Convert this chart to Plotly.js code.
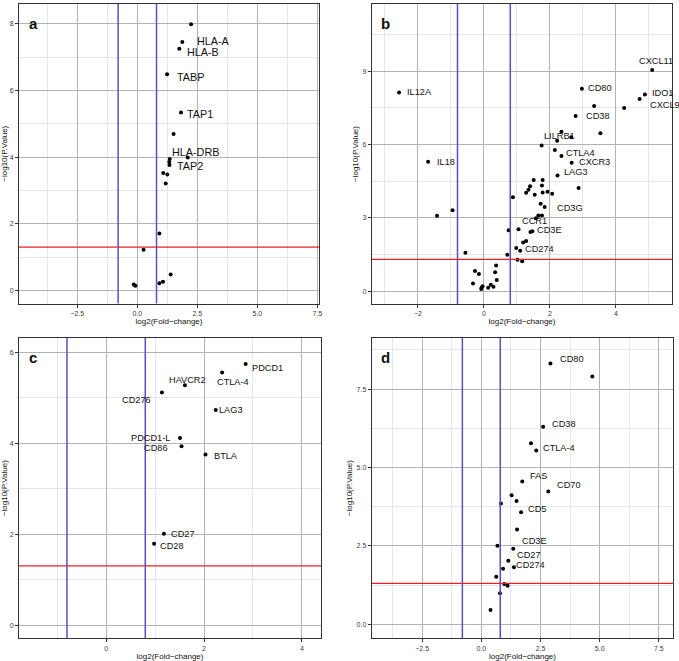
<!DOCTYPE html>
<html>
<head>
<meta charset="utf-8">
<script src="https://cdn.plot.ly/plotly-3.0.1.min.js"></script>
<style>html,body{margin:0;padding:0;background:#fff;}#chart{width:679px;height:661px;}</style>
</head>
<body>
<div id="chart"></div>
<script>
// ---------------- DATA ----------------
// Panel a
const aX = [2.24, 1.875, 1.75, 1.24, 1.82, 1.51, 2.10, 1.35, 1.33, 1.34, 1.08, 1.25, 1.18, 0.92, 0.26, 1.39, 1.07, 0.92, -0.15, -0.08];
const aY = [7.99, 7.46, 7.26, 6.49, 5.34, 4.70, 3.99, 3.95, 3.86, 3.77, 3.53, 3.48, 3.21, 1.71, 1.22, 0.48, 0.26, 0.22, 0.18, 0.14];
const aLabels = ['', 'HLA-A', 'HLA-B', 'TABP', 'TAP1', '', '', 'HLA-DRB', '', 'TAP2', '', '', '', '', '', '', '', '', '', ''];

// Panel b
const bX = [-2.57, -1.69, -1.42, -0.95, -0.56, 5.10, 2.97, 4.88, 4.72, 4.25, 3.34, 2.78, 3.53, 2.35, 2.65, 2.22, 1.75, 2.15, 2.35, 2.66,
            2.23, 2.87, 1.51, 1.78, 1.76, 1.40, 1.35, 1.28, 1.54, 1.78, 1.93, 2.07, 0.88, 1.72, 1.84, 1.65, 1.76, 1.58, 1.05, 0.75,
            1.41, 1.47, 1.28, 1.19, 0.98, 1.10, 0.71, 1.02, 1.16, 0.37, 0.34, 0.39, 0.21, 0.29, -0.07, 0.13, -0.27, -0.15, -0.33, -0.08, -0.04];
const bY = [8.13, 5.30, 3.09, 3.31, 1.57, 9.06, 8.29, 8.05, 7.87, 7.50, 7.58, 7.17, 6.46, 6.53, 6.30, 6.16, 5.96, 5.78, 5.53, 5.26,
            4.73, 4.22, 4.55, 4.55, 4.32, 4.29, 4.15, 4.03, 3.95, 4.04, 4.07, 3.99, 3.84, 3.58, 3.44, 3.10, 3.10, 2.98, 2.53, 2.49,
            2.42, 2.45, 2.05, 1.99, 1.76, 1.65, 1.49, 1.28, 1.22, 1.05, 0.77, 0.45, 0.26, 0.18, 0.14, 0.14, 0.82, 0.70, 0.31, 0.08, 0.20];
const bLabels = ['IL12A', 'IL18', '', '', '', 'CXCL11', 'CD80', 'IDO1', 'CXCL9', '', '', 'CD38', '', '', '', 'LILRB1', '', '', 'CTLA4', 'CXCR3',
                 'LAG3', '', '', '', '', '', '', '', '', '', '', '', '', '', 'CD3G', '', '', '', 'CCR1', '',
                 '', 'CD3E', '', '', '', 'CD274', '', '', '', '', '', '', '', '', '', '', '', '', '', '', ''];

// Panel c
const cX = [2.85, 2.37, 1.61, 1.14, 2.24, 1.51, 1.54, 2.03, 1.18, 0.98];
const cY = [5.74, 5.55, 5.27, 5.11, 4.73, 4.11, 3.93, 3.75, 2.01, 1.79];
const cLabels = ['PDCD1', 'CTLA-4', 'HAVCR2', 'CD276', 'LAG3', 'PDCD1-L', 'CD86', 'BTLA', 'CD27', 'CD28'];

// Panel d
const dX = [2.92, 4.69, 2.61, 2.10, 2.32, 1.73, 2.83, 1.28, 1.49, 0.83, 1.68, 1.51, 0.68, 1.35, 1.14, 0.92, 1.38, 0.63, 0.97, 1.11, 0.79, 0.39];
const dY = [8.32, 7.90, 6.30, 5.77, 5.54, 4.55, 4.23, 4.11, 3.93, 3.85, 3.57, 3.02, 2.50, 2.41, 2.02, 1.77, 1.82, 1.51, 1.28, 1.23, 0.99, 0.45];
const dLabels = ['CD80', '', 'CD38', '', 'CTLA-4', 'FAS', 'CD70', '', '', '', 'CD5', '', '', 'CD3E', 'CD27', '', 'CD274', '', '', '', '', ''];

// Thresholds
const FC_CUT = 0.8;      // |log2 fold-change|
const P_CUT = 1.3;       // -log10(0.05)

// ---------------- STYLE / LAYOUT ----------------
// label offsets in pixels: [xanchor, xshift, yshift]
const labelOffsets = {
  a: {'HLA-A': ['left', 13, 1], 'HLA-B': ['left', 6, -3], 'TABP': ['left', 8, -3], 'TAP1': ['left', 4, -1],
      'HLA-DRB': ['left', 0, 7], 'TAP2': ['left', 6, -1]},
  b: {'CXCL11': ['left', -15, 9], 'CD80': ['left', 4, 1], 'IDO1': ['left', 5, 2], 'CXCL9': ['left', 8, -6],
      'CD38': ['left', 8, 0], 'LILRB1': ['left', -15, 5], 'CTLA4': ['left', 3, 3], 'CXCR3': ['left', 5, 1],
      'LAG3': ['left', 5, 4], 'IL12A': ['left', 6, 1], 'IL18': ['left', 7, 0], 'CD3G': ['left', 10, -1],
      'CCR1': ['left', 1, 8], 'CD3E': ['left', 3, 1], 'CD274': ['left', 3, 2]},
  c: {'PDCD1': ['left', 4, -4], 'CTLA-4': ['left', -7, -9], 'HAVCR2': ['left', -18, 5], 'CD276': ['right', -9, -7],
      'LAG3': ['left', 1, 0], 'PDCD1-L': ['right', -8, 0], 'CD86': ['right', -12, -2], 'BTLA': ['left', 7, -2],
      'CD27': ['left', 5, 0], 'CD28': ['left', 4, -2]},
  d: {'CD80': ['left', 8, 4], 'CD38': ['left', 7, 3], 'CTLA-4': ['left', 5, 3], 'FAS': ['left', 6, 6],
      'CD70': ['left', 7, 7], 'CD5': ['left', 5, 3], 'CD3E': ['left', 7, 8], 'CD27': ['left', 7, 6], 'CD274': ['left', 0, 2]}
};

const W = 679, H = 661;
function dom(p0, p1, size, flip) {
  return flip ? [(size - p1) / size, (size - p0) / size] : [p0 / size, p1 / size];
}

const panels = [
  {key: 'a', x: aX, y: aY, lab: aLabels, ax: '', xr: [-4.93, 7.57], yr: [-0.39, 8.6], xd: 2.5, yd: 2, xfmt: '.1f', yfmt: 'd',
   px: [19, 319], py: [4, 303.5], fs: 10.8},
  {key: 'b', x: bX, y: bY, lab: bLabels, ax: '2', xr: [-3.40, 5.71], yr: [-0.53, 11.76], xd: 2, yd: 3, xfmt: 'd', yfmt: 'd',
   px: [371.7, 672.3], py: [4, 304], fs: 9.2},
  {key: 'c', x: cX, y: cY, lab: cLabels, ax: '3', xr: [-1.78, 4.39], yr: [-0.29, 6.31], xd: 2, yd: 2, xfmt: 'd', yfmt: 'd',
   px: [19, 321], py: [338, 638.3], fs: 9.2},
  {key: 'd', x: dX, y: dY, lab: dLabels, ax: '4', xr: [-4.63, 8.11], yr: [-0.45, 9.13], xd: 2.5, yd: 2.5, xfmt: '.1f', yfmt: '.1f',
   px: [371.7, 673.3], py: [338, 638.3], fs: 9.2}
];

const traces = [];
const annotations = [];
const shapes = [];
const layout = {
  width: W, height: H,
  margin: {l: 0, r: 0, t: 0, b: 0},
  paper_bgcolor: '#ffffff', plot_bgcolor: '#ffffff',
  showlegend: false,
  font: {family: 'Liberation Sans, Arial, sans-serif', color: '#222'}
};

const tickFont = {family: 'Liberation Sans, Arial, sans-serif', size: 7, color: '#3a3a3a'};
const titleFont = {family: 'Liberation Sans, Arial, sans-serif', size: 8, color: '#111'};
const labelFont = 'Liberation Sans, Arial, sans-serif';

panels.forEach(p => {
  const xa = 'x' + p.ax, ya = 'y' + p.ax;
  traces.push({
    type: 'scatter', mode: 'markers', x: p.x, y: p.y, xaxis: xa, yaxis: ya,
    marker: {color: '#000', size: 4}, hoverinfo: 'skip', cliponaxis: true
  });
  const common = {
    showline: true, mirror: true, linecolor: '#333', linewidth: 1,
    ticks: 'outside', ticklen: 3, tickcolor: '#333', tickwidth: 1,
    showgrid: true, gridcolor: '#b3b3b3', gridwidth: 1,
    zeroline: false, tickfont: tickFont, fixedrange: true
  };
  layout['xaxis' + p.ax] = Object.assign({}, common, {
    domain: dom(p.px[0], p.px[1], W, false), anchor: ya, range: p.xr,
    tick0: 0, dtick: p.xd, tickformat: p.xfmt,
    minor: {dtick: p.xd / 2, tick0: 0, showgrid: true, gridcolor: '#e6e6e6', gridwidth: 1, ticks: ''},
    title: {text: 'log2(Fold\u2212change)', font: titleFont, standoff: 0}
  });
  layout['yaxis' + p.ax] = Object.assign({}, common, {
    domain: dom(p.py[0], p.py[1], H, true), anchor: xa, range: p.yr,
    tick0: 0, dtick: p.yd, tickformat: p.yfmt,
    minor: {dtick: p.yd / 2, tick0: 0, showgrid: true, gridcolor: '#e6e6e6', gridwidth: 1, ticks: ''},
    title: {text: '\u2212log10(P.Value)', font: titleFont, standoff: 2}
  });
  // threshold lines
  [-FC_CUT, FC_CUT].forEach(v => shapes.push({
    type: 'line', xref: xa, yref: ya + ' domain', x0: v, x1: v, y0: 0, y1: 1,
    line: {color: '#5b4fc4', width: 1.5}, layer: 'above'
  }));
  shapes.push({
    type: 'line', xref: xa + ' domain', yref: ya, x0: 0, x1: 1, y0: P_CUT, y1: P_CUT,
    line: {color: '#e8202a', width: 1.3}, layer: 'above'
  });
  // panel letter
  annotations.push({
    xref: xa + ' domain', yref: ya + ' domain', x: 0.025, y: 0.935, xanchor: 'left', yanchor: 'middle',
    text: '<b>' + p.key + '</b>', showarrow: false,
    font: {family: 'Liberation Sans, Arial, sans-serif', size: 15, color: '#111'}
  });
  // gene labels
  const offs = labelOffsets[p.key];
  p.lab.forEach((t, i) => {
    if (!t) return;
    const o = offs[t] || ['left', 5, 0];
    annotations.push({
      xref: xa, yref: ya, x: p.x[i], y: p.y[i], text: t, showarrow: false,
      xanchor: o[0], yanchor: 'middle', xshift: o[1], yshift: o[2],
      font: {family: labelFont, size: p.fs, color: '#111'}
    });
  });
});

layout.annotations = annotations;
layout.shapes = shapes;

Plotly.newPlot('chart', traces, layout, {displayModeBar: false, staticPlot: true});
</script>
</body>
</html>
